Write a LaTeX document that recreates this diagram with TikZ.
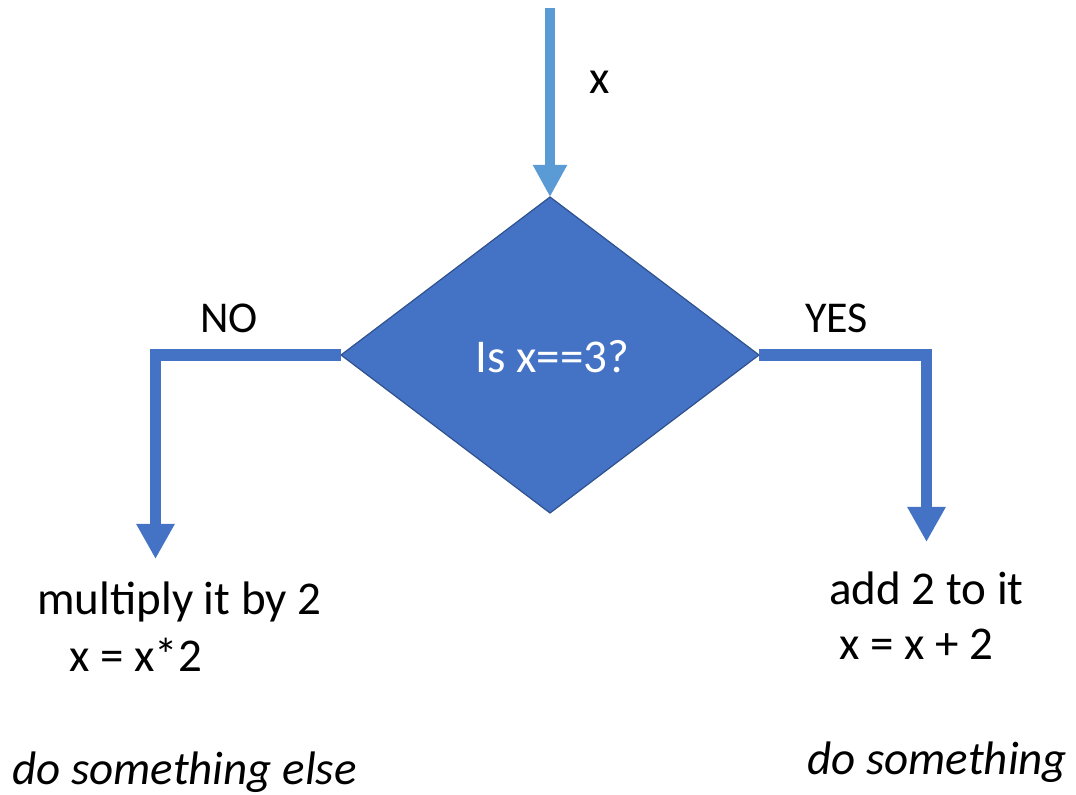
\documentclass[tikz,border=0pt]{standalone}
\usepackage{fontspec}
\setmainfont{Carlito}
\usepackage{tikz}
\usetikzlibrary{shapes.geometric, arrows.meta, positioning}
\definecolor{myblue}{RGB}{68,114,196}
\definecolor{mylight}{RGB}{91,155,213}
\definecolor{mydark}{RGB}{47,82,143}
\tikzset{
  decision/.style={diamond, draw=mydark, fill=myblue, line width=0.6pt,
    minimum width=209pt, minimum height=158pt, inner sep=0pt, outer sep=0pt,
    text=white, font=\fontsize{23.5}{28}\selectfont},
  txt/.style={inner sep=0pt, anchor=base west, font=\fontsize{23.5}{28}\selectfont},
  itxt/.style={txt, font=\fontsize{23.5}{28}\selectfont\itshape},
  lbl/.style={inner sep=0pt, anchor=base west, font=\fontsize{22}{26}\selectfont},
  inarrow/.style={-{Triangle[width=16pt, length=16pt]}, line width=5pt, color=mylight},
  branch/.style={-{Triangle[width=18pt, length=17.5pt]}, line width=5.75pt, color=myblue}
}
\begin{document}
\begin{tikzpicture}[x=0.5pt, y=-0.5pt]
  \useasboundingbox (0,0) rectangle (1076,795);
  \node[decision] (dia) at (550,355) {};
  \node[txt, text=white] (q) at (475,373) {Is x==3?};

  \coordinate (start) at (550,8);
  \coordinate (noend) at (155.5,559);
  \coordinate (yesend) at (926.5,542);

  \draw[inarrow] (start) -- (dia.north);
  \draw[branch] (dia.west) -| (noend);
  \draw[branch] (dia.east) -| (yesend);

  \node[txt] (xin) at (589,94) {x};
  \node[lbl] (no) at (200,333) {NO};
  \node[lbl] (yes) at (805,333) {YES};

  \node[txt] (mul) at (37,615) {multiply it by 2};
  \node[txt] (mulx) at (69,672) {x = x*2};
  \node[itxt] (els) at (12,784) {do something else};

  \node[txt] (add) at (829,605) {add 2 to it};
  \node[txt] (addx) at (839,660) {x = x + 2};
  \node[itxt] (sth) at (807,775) {do something};
\end{tikzpicture}
\end{document}
